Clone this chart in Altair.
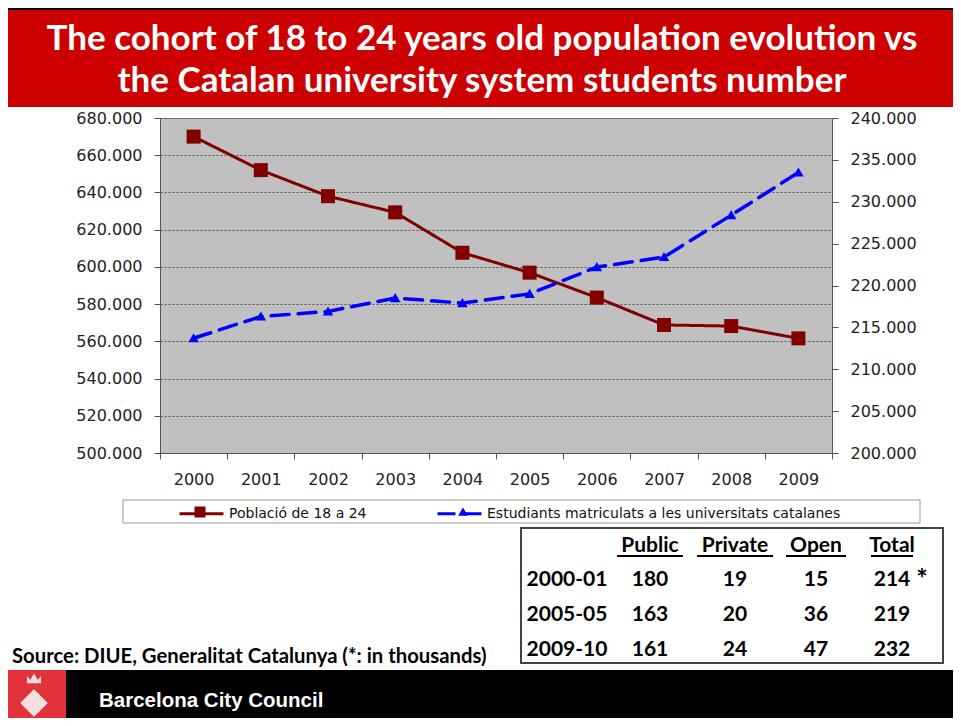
import altair as alt
import pandas as pd

# ---------------- data ----------------
years = [2000, 2001, 2002, 2003, 2004, 2005, 2006, 2007, 2008, 2009]
population = [670000, 652000, 638000, 629300, 607600, 596900, 583500, 568800, 568200, 561600]
students = [213700, 216300, 216900, 218500, 217900, 219000, 222200, 223400, 228400, 233500]
series_names = ["Població de 18 a 24", "Estudiants matriculats a les universitats catalanes"]

title_lines = ["The cohort of 18 to 24 years old population evolution vs",
               "the Catalan university system students number"]
source_note = "Source: DIUE, Generalitat Catalunya  (*: in thousands)"
footer_text = "Barcelona City Council"

table_headers = ["Public", "Private", "Open", "Total"]
table_periods = ["2000-01", "2005-05", "2009-10"]
table_public = [180, 163, 161]
table_private = [19, 20, 24]
table_open = [15, 36, 47]
table_total = [214, 219, 232]
table_mark = "*"

# ---------------- styling ----------------
RED = "#800000"
BLUE = "#0000ff"
COLORS = [RED, BLUE]
DASHES = [[1, 0], [18, 9]]
SQUARE = "M-0.25,-0.25H0.25V0.25H-0.25Z"
TRIANGLE = "M0,-0.21L0.22,0.17H-0.22Z"
AXIS_FONT = "DejaVu Sans"
TITLE_FONT = "Lato"
W, H = 672, 335
PAD = {"left": 152, "top": 110, "right": 121, "bottom": 265}
LEFT_EDGE = -PAD["left"]
RIGHT_EDGE = W + PAD["right"]
BOTTOM_EDGE = H + PAD["bottom"]

pop_df = pd.DataFrame({"year": years, "value": population, "series": series_names[0]})
stu_df = pd.DataFrame({"year": years, "value": students, "series": series_names[1]})
marker_domain = [n + " " for n in series_names]
pop_df["marker"] = marker_domain[0]
stu_df["marker"] = marker_domain[1]

x_enc = alt.X(
    "year:O",
    scale=alt.Scale(type="band", paddingInner=0, paddingOuter=0),
    bandPosition=0.5,
    axis=alt.Axis(title=None, labelAngle=0, tickBand="extent", labelFont=AXIS_FONT,
                  labelFontSize=16, labelColor="#222", labelPadding=12, tickSize=6,
                  domainColor="#555", tickColor="#555", grid=False),
)

LEG_FONT = 14
LEG_GAP = 64
LABEL1_W = 151  # approx rendered width of the first legend label (+ label offset)
legend_common = dict(orient="none", legendX=18, legendY=372, direction="horizontal",
                     title=None, symbolSize=1936, labelFont=AXIS_FONT, labelFontSize=LEG_FONT,
                     labelColor="#111", labelOffset=4, padding=0, labelLimit=0)
leg_lines = alt.Legend(symbolType="stroke", symbolStrokeWidth=3, columnPadding=LEG_GAP, **legend_common)
# marker overlay legend: symbols only, spaced like the line legend
leg_marks = alt.Legend(labelExpr="''", symbolStrokeWidth=0,
                       columnPadding=LABEL1_W + LEG_GAP, **legend_common)

color_enc = alt.Color("series:N", scale=alt.Scale(domain=series_names, range=COLORS), legend=leg_lines)
dash_enc = alt.StrokeDash("series:N", scale=alt.Scale(domain=series_names, range=DASHES), legend=leg_lines)
fill_enc = alt.Fill("marker:N", scale=alt.Scale(domain=marker_domain, range=COLORS), legend=leg_marks)
shape_enc = alt.Shape("marker:N", scale=alt.Scale(domain=marker_domain, range=[SQUARE, TRIANGLE]), legend=leg_marks)

left_scale = alt.Scale(domain=[500000, 680000], nice=False, zero=False)
right_scale = alt.Scale(domain=[200000, 240000], nice=False, zero=False)
label_expr = "replace(format(datum.value, ','), ',', '.')"

left_axis = alt.Axis(title=None, orient="left", values=list(range(500000, 680001, 20000)),
                     labelExpr=label_expr, labelFont=AXIS_FONT, labelFontSize=16, labelColor="#222",
                     labelPadding=12, tickSize=6, tickColor="#555", domainColor="#555",
                     grid=True, gridColor="#555", gridDash=[2, 2], gridWidth=1)
right_axis = alt.Axis(title=None, orient="right", values=list(range(200000, 240001, 5000)),
                      labelExpr=label_expr, labelFont=AXIS_FONT, labelFontSize=16, labelColor="#222",
                      labelPadding=12, tickSize=6, tickColor="#555", domainColor="#555", grid=False)

pop_line = alt.Chart(pop_df).mark_line(strokeWidth=3).encode(
    x=x_enc, y=alt.Y("value:Q", scale=left_scale, axis=left_axis), color=color_enc, strokeDash=dash_enc)
pop_pts = alt.Chart(pop_df).mark_point(filled=True, opacity=1, size=3136, strokeWidth=0).encode(
    x=x_enc, y=alt.Y("value:Q", scale=left_scale, axis=None), fill=fill_enc, shape=shape_enc)
stu_line = alt.Chart(stu_df).mark_line(strokeWidth=3.5, strokeCap="round").encode(
    x=x_enc, y=alt.Y("value:Q", scale=right_scale, axis=right_axis), color=color_enc, strokeDash=dash_enc)
stu_pts = alt.Chart(stu_df).mark_point(filled=True, opacity=1, size=2300, strokeWidth=0).encode(
    x=x_enc, y=alt.Y("value:Q", scale=right_scale, axis=None), fill=fill_enc, shape=shape_enc)

one = pd.DataFrame({"k": [0]})


def box(x, x2, y, y2, fill, stroke=None, sw=0):
    kw = dict(fill=fill)
    if stroke:
        kw.update(stroke=stroke, strokeWidth=sw)
    return alt.Chart(one).mark_rect(**kw).encode(
        x=alt.value(x), x2=alt.value(x2), y=alt.value(y), y2=alt.value(y2))


def label(text, x, y, font, size, color, align="left", weight="bold"):
    return alt.Chart(pd.DataFrame({"t": [text]})).mark_text(
        font=font, fontSize=size, fontWeight=weight, color=color, align=align,
        baseline="alphabetic", lineBreak="\n", lineHeight=42).encode(
        text="t:N", x=alt.value(x), y=alt.value(y))


title_bar = box(LEFT_EDGE, RIGHT_EDGE, -108, -11, "#cc0000")
top_line = box(LEFT_EDGE, RIGHT_EDGE, -110, -108, "#000000")
legend_box = box(-37, 760, 382, 405, "#ffffff", "#999999", 1)
table_box = box(361, 783, 410, 545, "#ffffff", "#444444", 2)
footer_bar = box(LEFT_EDGE, RIGHT_EDGE, 552, BOTTOM_EDGE, "#000000")
logo_bg = box(LEFT_EDGE, -94, 552, BOTTOM_EDGE, "#e2333b")

logo_diamond = alt.Chart(one).mark_point(shape="diamond", filled=True, size=700, color="#f6dede",
                                          stroke="#ffffff", strokeWidth=1, opacity=1).encode(
    x=alt.value(-126), y=alt.value(585))
logo_crown = alt.Chart(one).mark_point(shape="M-1,0.6L-1,-0.4L-0.5,0.1L0,-0.8L0.5,0.1L1,-0.4L1,0.6Z",
                                        filled=True, size=200, color="#f6dede", opacity=1).encode(
    x=alt.value(-126), y=alt.value(561))

title_text = label("\n".join(title_lines), 322, -68, TITLE_FONT, 35, "#ffffff", align="center")
source_text = label(source_note, -148, 545, TITLE_FONT, 20.3, "#000000")
footer = label(footer_text, -61, 589, "Liberation Sans", 20.5, "#ffffff")

# table
col_x = {"period": 407, "Public": 490, "Private": 575, "Open": 656, "Total": 732}
underline_w = {"Public": 66, "Private": 76, "Open": 60, "Total": 42}
header_y = 434
row_y = [468, 503, 538]

table_rows = [(table_headers, [col_x[h] for h in table_headers], header_y)]
for i, p in enumerate(table_periods):
    vals = [p] + [str(v) for v in (table_public[i], table_private[i], table_open[i], table_total[i])]
    xs = [col_x["period"]] + [col_x[h] for h in table_headers]
    table_rows.append((vals, xs, row_y[i]))

table_layers = []
for texts, xs, y in table_rows:
    table_layers.append(
        alt.Chart(pd.DataFrame({"t": texts, "px": xs})).mark_text(
            font=TITLE_FONT, fontSize=21, fontWeight="bold", color="#000000",
            align="center", baseline="alphabetic").encode(
            text="t:N", x=alt.X("px:Q", scale=None), y=alt.value(y)))
star = label(table_mark, col_x["Total"] + 30, row_y[0] + 2, TITLE_FONT, 27, "#000000", align="center")

ul_df = pd.DataFrame({"x1": [col_x[h] - underline_w[h] / 2 for h in table_headers],
                      "x2": [col_x[h] + underline_w[h] / 2 for h in table_headers]})
underlines = alt.Chart(ul_df).mark_rule(color="#000000", strokeWidth=2).encode(
    x=alt.X("x1:Q", scale=None), x2="x2:Q", y=alt.value(header_y + 4))

chart = alt.layer(
    pop_line, pop_pts, stu_line, stu_pts,
    title_bar, top_line, title_text,
    legend_box, table_box, *table_layers, star, underlines, source_text,
    footer_bar, logo_bg, logo_diamond, logo_crown, footer,
).resolve_scale(y="independent").properties(
    width=W, height=H, padding=PAD, autosize=alt.AutoSizeParams(type="none"),
    background="#ffffff",
).configure_view(fill="#c0c0c0", stroke="#8a8a8a", strokeWidth=1)

chart.save("out.html", embed_options={"renderer": "svg", "actions": False})
